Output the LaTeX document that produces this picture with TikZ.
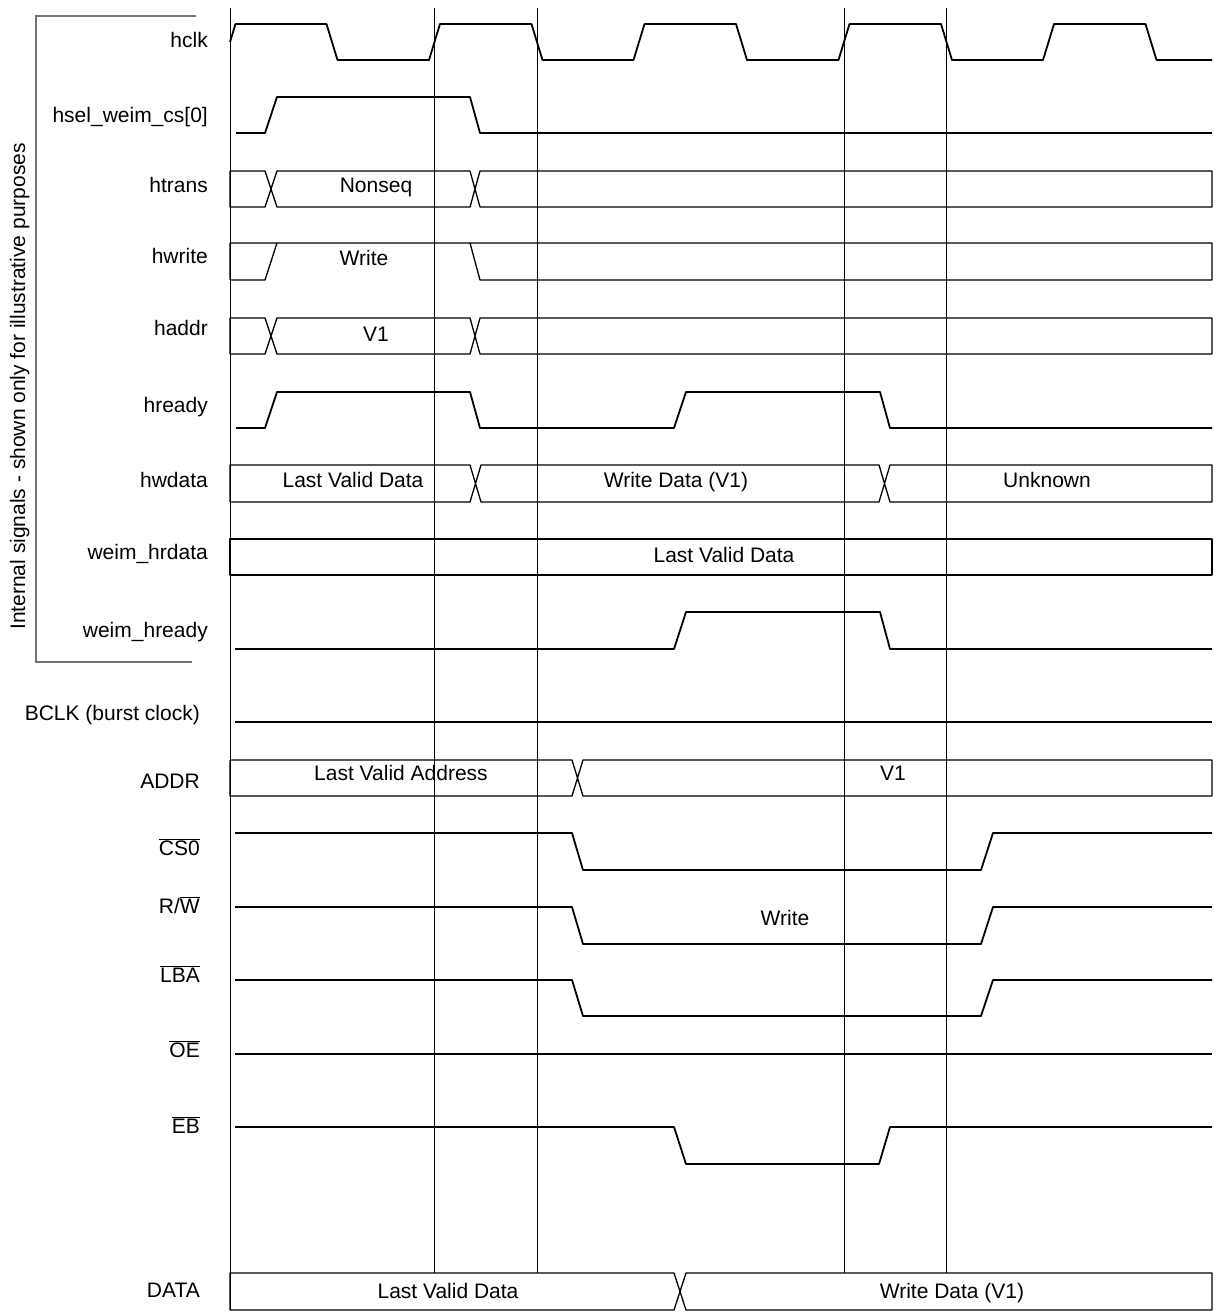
\documentclass[tikz,border=0pt]{standalone}
\usepackage{fontspec}
\setmainfont{Liberation Sans}
\newcommand\ovl[1]{$\overline{\hbox{#1}}$}
\begin{document}
\begin{tikzpicture}[x=1pt,y=-1pt,
  sig/.style={line width=1.8pt, line join=round},
  bus/.style={line width=1.3pt, line join=round},
  gridln/.style={line width=1pt},
  brk/.style={line width=1.4pt, draw=black!55},
  txt/.style={inner sep=0pt, font=\fontsize{21}{25}\selectfont},
  lblu/.style={txt, anchor=base east},
  val/.style={txt, anchor=base}]
\useasboundingbox (0,0) rectangle (1217,1315);

% grid lines
\draw[gridln] (230,8) -- (230,1310);
\foreach \gx in {434.5,537,844,946.5} \draw[gridln] (\gx,8) -- (\gx,1273);

% bracket
\draw[brk] (196,16) -- (36,16) -- (36,662) -- (192,662);
\node[txt, rotate=90, anchor=base west] (side) at (25,630) {Internal signals - shown only for illustrative purposes};

% labels
\node[lblu] (l1) at (208,47) {hclk};
\node[lblu] (l2) at (208,122) {hsel\_weim\_cs[0]};
\node[lblu] (l3) at (208,192) {htrans};
\node[lblu] (l4) at (208,263) {hwrite};
\node[lblu] (l5) at (208,335) {haddr};
\node[lblu] (l6) at (208,412) {hready};
\node[lblu] (l7) at (208,487) {hwdata};
\node[lblu] (l8) at (208,559) {weim\_hrdata};
\node[lblu] (l9) at (208,637) {weim\_hready};
\node[lblu] (l10) at (200,720) {BCLK (burst clock)};
\node[lblu] (l11) at (200,788) {ADDR};
\node[lblu] (l12) at (200,855) {\ovl{CS0}};
\node[lblu] (l13) at (200,913) {R/\ovl{W}};
\node[lblu] (l14) at (200,982) {\ovl{LBA}};
\node[lblu] (l15) at (200,1057) {\ovl{OE}};
\node[lblu] (l16) at (200,1133) {\ovl{EB}};
\node[lblu] (l17) at (200,1297) {DATA};

% hclk
\draw[sig] (230,42) -- (235.5,24) -- (326.5,24) -- (337.5,60) -- (429,60) -- (440,24)
  -- (531.5,24) -- (542.5,60) -- (633.5,60) -- (644.5,24) -- (736,24) -- (747,60)
  -- (838.5,60) -- (849.5,24) -- (941,24) -- (952,60) -- (1043,60) -- (1054,24)
  -- (1145.5,24) -- (1156.5,60) -- (1212,60);

% hsel_weim_cs[0]
\draw[sig] (236,133) -- (265,133) -- (277,97) -- (470,97) -- (480,133) -- (1212,133);

% htrans
\draw[bus] (265,171) -- (230,171) -- (230,207) -- (265,207) -- (277,171) -- (470,171) -- (480,207) -- (1212,207) -- (1212,171) -- (480,171) -- (470,207) -- (277,207) -- cycle;
\node[val] (v1) at (376,192) {Nonseq};

% hwrite
\draw[bus] (277,243) -- (265,280) -- (230,280) -- (230,243) -- (1212,243) -- (1212,280) -- (480,280) -- (470,243);
\node[val] (v2) at (364,265) {Write};

% haddr
\draw[bus] (265,318) -- (230,318) -- (230,354) -- (265,354) -- (277,318) -- (470,318) -- (480,354) -- (1212,354) -- (1212,318) -- (480,318) -- (470,354) -- (277,354) -- cycle;
\node[val] (v3) at (376,341) {V1};

% hready
\draw[sig] (236,428) -- (265,428) -- (277,392) -- (470,392) -- (480,428) -- (674,428) -- (686,392) -- (880,392) -- (890,428) -- (1212,428);

% hwdata
\draw[bus] (470,465) -- (230,465) -- (230,502) -- (470,502) -- (481,465) -- (879,465) -- (890,502) -- (1212,502) -- (1212,465) -- (890,465) -- (879,502) -- (481,502) -- cycle;
\node[val] (v4) at (353,487) {Last Valid Data};
\node[val] (v5) at (676,487) {Write Data (V1)};
\node[val] (v6) at (1047,487) {Unknown};

% weim_hrdata
\draw[bus] (230,539) rectangle (1212,575);
\node[val] (v7) at (724,562) {Last Valid Data};

% weim_hready
\draw[sig] (235,649) -- (674,649) -- (686,612) -- (880,612) -- (890,649) -- (1212,649);

% BCLK
\draw[sig] (235,722) -- (1212,722);

% ADDR
\draw[bus] (572,760) -- (230,760) -- (230,796) -- (572,796) -- (583,760) -- (1212,760) -- (1212,796) -- (583,796) -- cycle;
\node[val] (v8) at (401,780) {Last Valid Address};
\node[val] (v9) at (893,780) {V1};

% CS0
\draw[sig] (235,833) -- (572,833) -- (583,870) -- (981,870) -- (993,833) -- (1212,833);
% R/W
\draw[sig] (235,907) -- (572,907) -- (583,944) -- (981,944) -- (993,907) -- (1212,907);
\node[val] (v10) at (785,925) {Write};
% LBA
\draw[sig] (235,980) -- (572,980) -- (583,1016) -- (981,1016) -- (993,980) -- (1212,980);
% OE
\draw[sig] (235,1054) -- (1212,1054);
% EB
\draw[sig] (235,1127) -- (674,1127) -- (686,1164) -- (879,1164) -- (890,1127) -- (1212,1127);

% DATA
\draw[bus] (674,1273) -- (230,1273) -- (230,1310) -- (674,1310) -- (686,1273) -- (1212,1273) -- (1212,1310) -- (686,1310) -- cycle;
\node[val] (v11) at (448,1298) {Last Valid Data};
\node[val] (v12) at (952,1298) {Write Data (V1)};
\end{tikzpicture}
\end{document}
